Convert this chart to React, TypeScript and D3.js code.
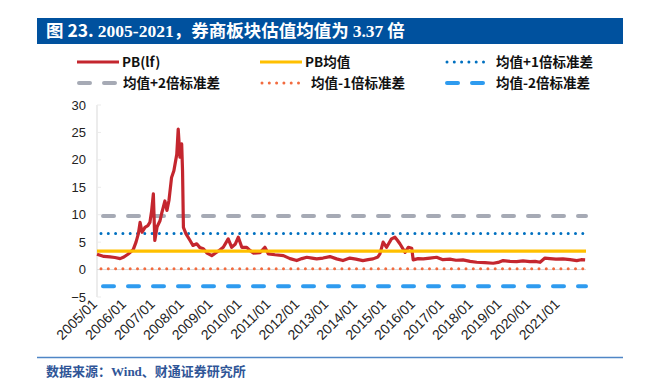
import * as d3 from 'd3';

// PB(lf) of the broker sector (decimal year, value)
const pbYears = [
  2005.0, 2005.24, 2005.45, 2005.62, 2005.8, 2005.93, 2006.07, 2006.25, 2006.35, 2006.43,
  2006.49, 2006.56, 2006.66, 2006.76, 2006.83, 2006.89, 2006.95, 2007.0, 2007.08, 2007.18,
  2007.25, 2007.29, 2007.35, 2007.42, 2007.49, 2007.58, 2007.66, 2007.76, 2007.81, 2007.87,
  2007.93, 2007.96, 2007.99, 2008.08, 2008.22, 2008.32, 2008.45, 2008.56, 2008.68, 2008.81,
  2008.97, 2009.14, 2009.26, 2009.37, 2009.54, 2009.66, 2009.78, 2009.89, 2010.01, 2010.18,
  2010.29, 2010.41, 2010.64, 2010.81, 2010.93, 2011.16, 2011.45, 2011.68, 2011.91, 2012.09,
  2012.26, 2012.44, 2012.6, 2012.82, 2013.06, 2013.29, 2013.51, 2013.75, 2013.96, 2014.2,
  2014.38, 2014.55, 2014.72, 2014.79, 2014.9, 2015.02, 2015.1, 2015.19, 2015.31, 2015.4,
  2015.48, 2015.66, 2015.77, 2015.89, 2015.94, 2016.11, 2016.29, 2016.52, 2016.75, 2016.97,
  2017.21, 2017.42, 2017.66, 2017.91, 2018.14, 2018.42, 2018.71, 2018.88, 2019.05, 2019.29,
  2019.52, 2019.74, 2019.98, 2020.16, 2020.33, 2020.5, 2020.67, 2020.88, 2021.12, 2021.37,
  2021.6, 2021.75, 2021.89,
];
const pbValues = [
  2.8, 2.4, 2.3, 2.2, 2.0, 2.3, 2.8, 3.6, 5.0, 6.5,
  8.6, 6.8, 7.7, 8.0, 8.6, 10.7, 13.8, 5.3, 7.8, 8.9,
  10.5, 11.3, 12.5, 10.8, 12.6, 16.8, 18.0, 21.0, 25.6, 20.5,
  22.9, 18.0, 7.7, 6.5, 5.3, 4.4, 4.7, 4.0, 3.8, 3.0,
  2.55, 3.15, 3.6, 4.06, 5.6, 4.06, 4.6, 5.9, 4.06, 4.06,
  3.5, 3.0, 3.1, 4.06, 2.85, 2.7, 2.55, 2.0, 1.64, 2.0,
  2.24, 2.1, 1.95, 2.1, 2.37, 1.95, 1.64, 2.1, 1.9, 1.64,
  1.8, 1.95, 2.3, 2.85, 5.0, 4.06, 4.8, 5.6, 5.9, 5.3,
  4.7, 3.15, 4.06, 3.9, 1.76, 2.0, 1.95, 2.1, 2.24, 1.8,
  1.9, 1.7, 1.76, 1.5, 1.33, 1.25, 1.15, 1.3, 1.64, 1.5,
  1.45, 1.6, 1.45, 1.5, 1.33, 2.1, 2.0, 1.9, 1.95, 1.8,
  1.64, 1.8, 1.76,
];

const pbMean = 3.37;
const pbStd = 3.2;

const yTicks = [-5, 0, 5, 10, 15, 20, 25, 30];
const xTickLabels = [
  '2005/01', '2006/01', '2007/01', '2008/01', '2009/01', '2010/01', '2011/01', '2012/01', '2013/01',
  '2014/01', '2015/01', '2016/01', '2017/01', '2018/01', '2019/01', '2020/01', '2021/01',
];
const legendLabels = ['PB(lf)', 'PB均值', '均值+1倍标准差', '均值+2倍标准差', '均值-1倍标准差', '均值-2倍标准差'];
// std multiples for the reference lines
const bandMultiples = [1, 2, -1, -2];

const W = 651;
const H = 386;
const left = 97;
const right = 586;

const labelToYear = (s: string) => +s.slice(0, 4) + (+s.slice(5) - 1) / 12;

export default function App() {
  const x = d3.scaleLinear().domain([2005, 2021.92]).range([left, right]);
  const y = d3.scaleLinear().domain([-5, 30]).range([297, 105]);

  const pts: [number, number][] = pbYears.map((t, i) => [t, pbValues[i]]);
  const line = d3
    .line<[number, number]>()
    .x((d) => x(d[0]))
    .y((d) => y(d[1]));

  // styles for the 6 legend entries (PB, mean, +1, +2, -1, -2 std)
  const styles = [
    { stroke: '#C4262E', width: 3.2, dash: undefined, cap: 'butt' },
    { stroke: '#FFC000', width: 3.2, dash: undefined, cap: 'butt' },
    { stroke: '#0070C0', width: 3, dash: '0 7.3', cap: 'round' },
    { stroke: '#A6AAB5', width: 4, dash: '11 14', cap: 'round' },
    { stroke: '#F26B3F', width: 3, dash: '0 7.3', cap: 'round' },
    { stroke: '#2E9BEF', width: 4, dash: '11 14', cap: 'round' },
  ];
  const bandStyle = (m: number) => styles[m === 1 ? 2 : m === 2 ? 3 : m === -1 ? 4 : 5];

  const legendCols = [77, 260, 445];
  const legendRows = [62, 83];
  const cjk = '"Noto Sans CJK SC", "Noto Sans", sans-serif';

  return (
    <svg
      width={W}
      height={H}
      style={{ position: 'absolute', left: 0, top: 0, background: '#fff' }}
    >
      {/* title bar */}
      <rect x={37} y={18} width={586} height={26} fill="#00519E" />
      <text x={46} y={37} fill="#fff" fontSize={17.5} fontWeight={700} fontFamily={cjk}>
        <tspan>图 23.</tspan>
        <tspan fontFamily='"Liberation Serif", serif' dx={4}>2005-2021</tspan>
        <tspan>，券商板块估值均值为 </tspan>
        <tspan fontFamily='"Liberation Serif", serif'>3.37</tspan>
        <tspan> 倍</tspan>
      </text>

      {/* legend */}
      {legendLabels.map((lab, i) => {
        const cx = legendCols[i % 3];
        const cy = legendRows[Math.floor(i / 3)];
        const st = styles[i];
        const len = i === 3 ? 38 : 42;
        return (
          <g key={lab}>
            <line
              x1={cx + (st.dash ? 2 : 0)}
              x2={cx + len}
              y1={cy}
              y2={cy}
              stroke={st.stroke}
              strokeWidth={st.width}
              strokeDasharray={st.dash}
              strokeLinecap={st.cap as any}
            />
            <text
              x={cx + len + (i % 3 === 0 && i > 0 ? 8 : i >= 2 ? 9 : 3)}
              y={cy + 5}
              fontSize={13.5}
              fontWeight={600}
              fontFamily={cjk}
              fill="#111"
            >
              {lab}
            </text>
          </g>
        );
      })}

      {/* y axis */}
      <line x1={left} x2={left} y1={y(30)} y2={y(-5)} stroke="#D9D9D9" strokeWidth={1} />
      {yTicks.map((t) => (
        <g key={t}>
          <line x1={left} x2={left + 4} y1={y(t)} y2={y(t)} stroke="#EBEBEB" />
          <text
            x={86}
            y={y(t) + 4.5}
            textAnchor="end"
            fontSize={13}
            fontFamily='"Liberation Sans", Arial, sans-serif'
            fill="#222"
          >
            {t < 0 ? '\u2212' + Math.abs(t) : t}
          </text>
        </g>
      ))}
      {/* zero line */}
      <line x1={left} x2={right} y1={y(0)} y2={y(0)} stroke="#D9D9D9" strokeWidth={1} />

      {/* x labels */}
      {xTickLabels.map((lab) => {
        const px = x(labelToYear(lab));
        return (
          <text
            key={lab}
            transform={`translate(${px + 1},${305}) rotate(-45)`}
            textAnchor="end"
            fontSize={14}
            fontFamily='"Liberation Sans", Arial, sans-serif'
            fill="#222"
          >
            {lab}
          </text>
        );
      })}

      {/* std bands */}
      {bandMultiples.map((m) => {
        const st = bandStyle(m);
        const yy = y(pbMean + m * pbStd);
        return (
          <line
            key={m}
            x1={left + (st.width > 3.5 ? 6 : 4)}
            x2={right}
            y1={yy}
            y2={yy}
            stroke={st.stroke}
            strokeWidth={st.width}
            strokeDasharray={st.dash}
            strokeLinecap={st.cap as any}
          />
        );
      })}

      {/* PB line */}
      <path d={line(pts) ?? ''} fill="none" stroke={styles[0].stroke} strokeWidth={3.2} strokeLinejoin="round" />

      {/* mean */}
      <line
        x1={left}
        x2={right}
        y1={y(pbMean)}
        y2={y(pbMean)}
        stroke={styles[1].stroke}
        strokeWidth={3.2}
      />

      {/* source */}
      <line x1={37} x2={623} y1={357.5} y2={357.5} stroke="#4F86C6" strokeWidth={1.5} />
      <text
        x={46}
        y={376}
        fontSize={13}
        fontWeight={700}
        fontFamily='"Liberation Serif", "Noto Sans CJK SC", serif'
        fill="#2F5597"
      >
        数据来源：Wind、财通证券研究所
      </text>
    </svg>
  );
}
